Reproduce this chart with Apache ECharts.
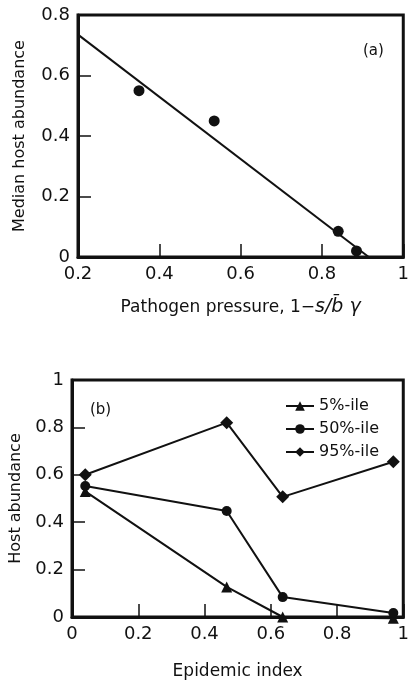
<!DOCTYPE html>
<html>
<head>
<meta charset="utf-8">
<script src="https://cdn.jsdelivr.net/npm/echarts@6/dist/echarts.min.js"></script>
<style>
  html, body { margin: 0; padding: 0; background: #fff; }
  #chart { width: 412px; height: 684px; }
</style>
</head>
<body>
<div id="chart"></div>
<script>
// panel (a): median host abundance vs pathogen pressure
const pressurePts = [0.35, 0.535, 0.84, 0.885];
const medianPts = [0.55, 0.45, 0.085, 0.02];
const fitLine = [[0.2, 0.735], [0.915, 0]];

// panel (b): host abundance vs epidemic index
const epidemicIdx = [0.04, 0.467, 0.636, 0.97];
const pct5 = [0.53, 0.127, 0.0, -0.005];
const pct50 = [0.553, 0.447, 0.084, 0.017];
const pct95 = [0.60, 0.82, 0.507, 0.655];

const FONT = 'DejaVu Sans';
const INK = '#111';

function pairs(xs, ys) {
    return xs.map((x, i) => [x, ys[i]]);
}

function fmt(v) {
    return String(Math.round(v * 10) / 10);
}

const axisCommon = {
    type: 'value',
    splitLine: { show: false },
    axisLine: { show: true, lineStyle: { color: INK, width: 3 } },
    axisTick: { show: true, inside: true, length: 13, lineStyle: { color: INK, width: 1.5 } },
    axisLabel: { color: INK, fontFamily: FONT, fontSize: 18, formatter: fmt },
    nameLocation: 'middle',
    nameTextStyle: { color: INK, fontFamily: FONT, fontSize: 16 }
};

const chart = echarts.init(document.getElementById('chart'));

const option = {
    backgroundColor: '#fff',
    animation: false,
    grid: [
        { left: 78, top: 15, width: 332, height: 242, show: true, borderColor: INK, borderWidth: 3 },
        { left: 71, top: 380, width: 335, height: 237, show: true, borderColor: INK, borderWidth: 3 }
    ],
    xAxis: [
        Object.assign({}, axisCommon, {
            gridIndex: 0, min: 0.2, max: 1, interval: 0.2,
            name: '{n|Pathogen pressure, 1−}{i|s/b̄ γ}',
            nameGap: 41,
            nameTextStyle: Object.assign({}, axisCommon.nameTextStyle, {
                rich: {
                    n: { fontFamily: FONT, fontSize: 17, color: INK },
                    i: { fontFamily: FONT, fontSize: 19, fontStyle: 'italic', color: INK }
                }
            })
        }),
        Object.assign({}, axisCommon, {
            gridIndex: 1, min: 0, max: 1, interval: 0.2,
            name: 'Epidemic index', nameGap: 46,
            nameTextStyle: Object.assign({}, axisCommon.nameTextStyle, { fontSize: 17 })
        })
    ],
    yAxis: [
        Object.assign({}, axisCommon, {
            gridIndex: 0, min: 0, max: 0.8, interval: 0.2,
            name: 'Median host abundance', nameGap: 50
        }),
        Object.assign({}, axisCommon, {
            gridIndex: 1, min: 0, max: 1, interval: 0.2,
            name: 'Host abundance', nameGap: 48
        })
    ],
    legend: {
        orient: 'vertical',
        left: 280,
        top: 393,
        itemWidth: 28,
        itemHeight: 12,
        itemGap: 7,
        textStyle: { color: INK, fontFamily: FONT, fontSize: 16 },
        data: ['5%-ile', '50%-ile', '95%-ile']
    },
    graphic: [
        { type: 'text', left: 363, top: 44, style: { text: '(a)', font: '15px "DejaVu Sans"', fill: INK } },
        { type: 'text', left: 90, top: 403, style: { text: '(b)', font: '15px "DejaVu Sans"', fill: INK } }
    ],
    series: [
        {
            type: 'line', xAxisIndex: 0, yAxisIndex: 0,
            data: fitLine, showSymbol: false,
            lineStyle: { color: INK, width: 2 }
        },
        {
            type: 'scatter', xAxisIndex: 0, yAxisIndex: 0,
            data: pairs(pressurePts, medianPts),
            symbol: 'circle', symbolSize: 11,
            itemStyle: { color: INK, opacity: 1 }
        },
        {
            name: '5%-ile', type: 'line', xAxisIndex: 1, yAxisIndex: 1,
            data: pairs(epidemicIdx, pct5), clip: false,
            symbol: 'triangle', symbolSize: 11,
            lineStyle: { color: INK, width: 2 }, itemStyle: { color: INK }
        },
        {
            name: '50%-ile', type: 'line', xAxisIndex: 1, yAxisIndex: 1,
            data: pairs(epidemicIdx, pct50), clip: false,
            symbol: 'circle', symbolSize: 10,
            lineStyle: { color: INK, width: 2 }, itemStyle: { color: INK }
        },
        {
            name: '95%-ile', type: 'line', xAxisIndex: 1, yAxisIndex: 1,
            data: pairs(epidemicIdx, pct95), clip: false,
            symbol: 'diamond', symbolSize: 13,
            lineStyle: { color: INK, width: 2 }, itemStyle: { color: INK }
        }
    ]
};

chart.setOption(option);
</script>
</body>
</html>
